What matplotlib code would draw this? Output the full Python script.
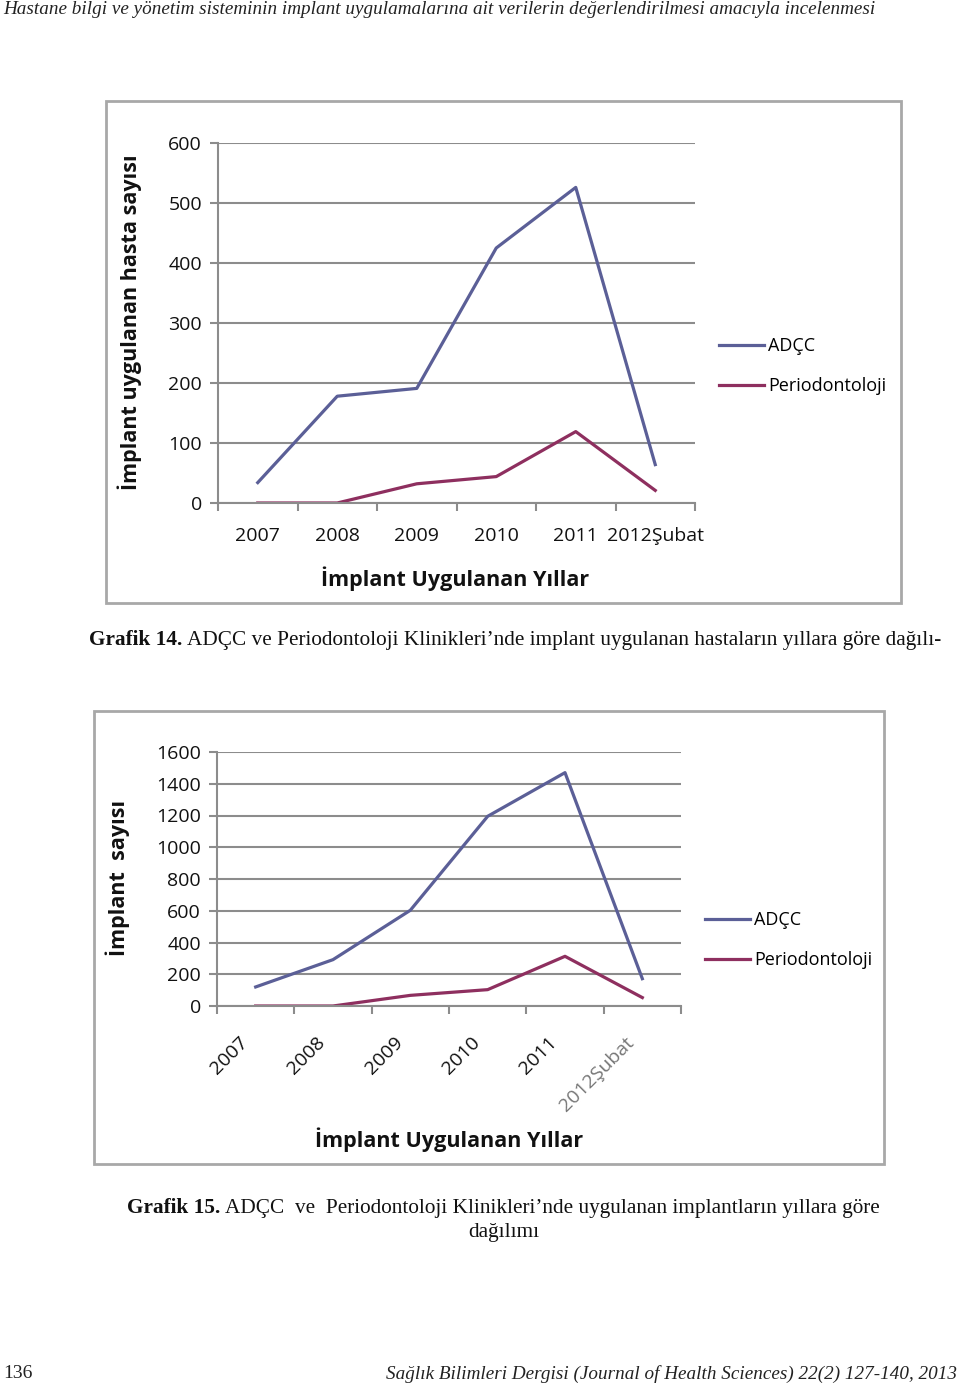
import matplotlib
matplotlib.use("Agg")
import matplotlib.pyplot as plt
from matplotlib.patches import Rectangle
from matplotlib.transforms import ScaledTranslation

# veriler
years = ["2007", "2008", "2009", "2010", "2011", "2012Şubat"]
hasta_adcc = [34, 178, 191, 425, 526, 64]
hasta_perio = [0, 0, 32, 44, 119, 21]
implant_adcc = [120, 292, 603, 1195, 1470, 172]
implant_perio = [0, 0, 67, 103, 313, 53]
series_names = ["ADÇC", "Periodontoloji"]
yticks_top = [0, 100, 200, 300, 400, 500, 600]
yticks_bottom = [0, 200, 400, 600, 800, 1000, 1200, 1400, 1600]

W, H = 960, 1387
c_adcc = "#5b5f97"
c_perio = "#8e2f5f"
grid_c = "#8c8c8c"
chart_font = ["Open Sans", "DejaVu Sans"]
serif = ["Liberation Serif", "DejaVu Serif"]

fig = plt.figure(figsize=(W / 100, H / 100), dpi=100)


def box(x0, y0, x1, y1):
    # piksel -> figür koordinatı
    return [x0 / W, 1 - y1 / H, (x1 - x0) / W, (y1 - y0) / H]


def frame(x0, y0, x1, y1):
    b = box(x0, y0, x1, y1)
    fig.patches.append(Rectangle((b[0], b[1]), b[2], b[3], transform=fig.transFigure,
                                 fill=False, edgecolor="#a8a8a8", linewidth=2))


def style_axes(ax, ymax, yticks):
    x = list(range(len(years)))
    ax.set_xlim(-0.5, len(years) - 0.5)
    ax.set_ylim(0, ymax)
    ax.set_yticks(yticks)
    ax.set_yticklabels([str(v) for v in yticks], fontsize=14, family=chart_font, color="#111111")
    ax.set_xticks(x)
    ax.set_xticks([i - 0.5 for i in range(len(years) + 1)], minor=True)
    ax.tick_params(axis="x", which="major", length=0, pad=17.5)
    ax.tick_params(axis="x", which="minor", length=6, color=grid_c, width=1.5)
    ax.tick_params(axis="y", length=6, color=grid_c, width=1.5, pad=5.5)
    for s in ["top", "right"]:
        ax.spines[s].set_visible(False)
    for s in ["left", "bottom"]:
        ax.spines[s].set_color(grid_c)
        ax.spines[s].set_linewidth(1.5)
    ax.yaxis.grid(True, color=grid_c, linewidth=1.5)
    ax.set_axisbelow(True)
    ax.patch.set_alpha(0)
    return x


# üst başlık
fig.text(3 / W, 1 - 9 / H, "Hastane bilgi ve yönetim sisteminin implant uygulamalarına ait verilerin değerlendirilmesi amacıyla incelenmesi",
         family=serif, style="italic", fontsize=13.8, va="center", ha="left", color="#222222")

# ---- Grafik 14 ----
frame(106, 101, 901, 603)
ax1 = fig.add_axes(box(218, 143, 695, 503))
x = style_axes(ax1, 600, yticks_top)
ax1.plot(x, hasta_adcc, color=c_adcc, lw=2.3, label=series_names[0])
ax1.plot(x, hasta_perio, color=c_perio, lw=2.3, label=series_names[1])
ax1.set_xticklabels(years, fontsize=14, family=chart_font, color="#111111")
fig.text(455 / W, 1 - 579 / H, "İmplant Uygulanan Yıllar", family=chart_font, fontweight="bold",
         fontsize=15.5, ha="center", va="center", color="#111111")
fig.text(130 / W, 1 - 322 / H, "İmplant uygulanan hasta sayısı", family=chart_font, fontweight="bold",
         fontsize=15.5, ha="center", va="center", rotation=90, color="#111111")
ax1.legend(loc="center left", bbox_to_anchor=(719 / W, 1 - 366 / H), bbox_transform=fig.transFigure,
           frameon=False, borderpad=0, borderaxespad=0, handlelength=2.5, handletextpad=0.2,
           labelspacing=1.2, prop={"family": chart_font, "size": 13})

# ---- Grafik 15 ----
frame(94, 711, 884, 1164)
ax2 = fig.add_axes(box(217, 752, 681, 1006))
x = style_axes(ax2, 1600, yticks_bottom)
ax2.plot(x, implant_adcc, color=c_adcc, lw=2.3, label=series_names[0])
ax2.plot(x, implant_perio, color=c_perio, lw=2.3, label=series_names[1])
ax2.set_xticklabels(years, fontsize=14, family=chart_font, color="#111111",
                    rotation=45, ha="right", va="top", rotation_mode="anchor")
ax2.tick_params(axis="x", which="major", pad=20)
shift = ScaledTranslation(-17 / 100, 0, fig.dpi_scale_trans)
for lab in ax2.get_xticklabels():
    lab.set_transform(lab.get_transform() + shift)
ax2.get_xticklabels()[-1].set_color("#777777")
fig.text(449 / W, 1 - 1140 / H, "İmplant Uygulanan Yıllar", family=chart_font, fontweight="bold",
         fontsize=15.5, ha="center", va="center", color="#111111")
fig.text(118 / W, 1 - 878 / H, "İmplant  sayısı", family=chart_font, fontweight="bold",
         fontsize=15.5, ha="center", va="center", rotation=90, color="#111111")
ax2.legend(loc="center left", bbox_to_anchor=(705 / W, 1 - 940 / H), bbox_transform=fig.transFigure,
           frameon=False, borderpad=0, borderaxespad=0, handlelength=2.5, handletextpad=0.2,
           labelspacing=1.2, prop={"family": chart_font, "size": 13})

# ---- altyazılar ----
renderer = fig.canvas.get_renderer()


def caption(x0, y, bold, rest, size=15.3):
    t = fig.text(x0 / W, 1 - y / H, bold, family=serif, fontweight="bold", fontsize=size,
                 va="center", ha="left", color="#111111")
    bb = t.get_window_extent(renderer)
    fig.text(bb.x1 / W + 5 / W, 1 - y / H, rest, family=serif, fontsize=size,
             va="center", ha="left", color="#111111")


caption(89, 640, "Grafik 14.", "ADÇC ve Periodontoloji Klinikleri’nde implant uygulanan hastaların yıllara göre dağılı-")
caption(127, 1208, "Grafik 15.", "ADÇC  ve  Periodontoloji Klinikleri’nde uygulanan implantların yıllara göre")
fig.text(504 / W, 1 - 1233 / H, "dağılımı", family=serif, fontsize=15.3, ha="center", va="center", color="#111111")

# alt bilgi
fig.text(3 / W, 1 - 1374 / H, "136", family=serif, fontsize=14, ha="left", va="center", color="#222222")
fig.text(957 / W, 1 - 1374 / H, "Sağlık Bilimleri Dergisi (Journal of Health Sciences) 22(2) 127-140, 2013",
         family=serif, style="italic", fontsize=13.8, ha="right", va="center", color="#222222")

plt.savefig("out.png", dpi=100)
